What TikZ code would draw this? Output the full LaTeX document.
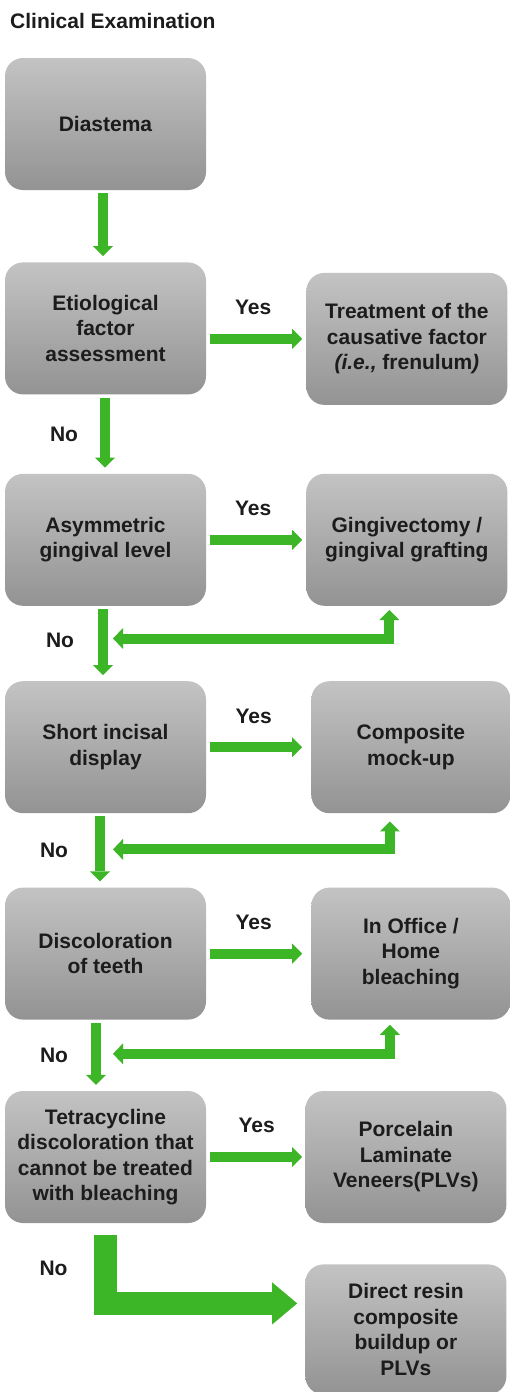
\documentclass[tikz,border=0pt]{standalone}
\usepackage{fontspec}
\setmainfont{Liberation Sans}
\usetikzlibrary{positioning,arrows.meta,calc}
\definecolor{cArrow}{HTML}{3CB526}
\definecolor{cTop}{HTML}{C2C3C2}
\definecolor{cBot}{HTML}{939393}
\definecolor{cText}{HTML}{1C1C1C}
\tikzset{
  box/.style={rounded corners=18pt, top color=cTop, bottom color=cBot, draw=none,
              align=center, text=cText, inner sep=0pt,
              font=\fontsize{21}{25.5}\selectfont\bfseries,
              minimum width=201pt, minimum height=132pt},
  ttl/.style={font=\fontsize{21}{25}\selectfont\bfseries, text=cText, inner sep=0pt},
  lbl/.style={font=\fontsize{21}{25}\selectfont\bfseries, text=cText, inner sep=0pt},
  yes/.style={lbl, above=19pt, xshift=-3pt},
  ar/.style={-{Triangle[length=10pt,width=20pt,line width=0pt]}, line width=10pt, cArrow,
             shorten <=3pt, shorten >=6pt},
  arr/.style={-{Triangle[length=10pt,width=20pt,line width=0pt]}, line width=10pt, cArrow,
              shorten <=4pt, shorten >=4pt},
  arb/.style={{Triangle[length=10pt,width=21pt,line width=0pt]}-{Triangle[length=10pt,width=20pt,line width=0pt]},
              line width=10pt, cArrow, shorten >=4pt},
  bigar/.style={-{Triangle[length=25pt,width=42pt,line width=0pt]}, line width=23pt, cArrow,
                shorten <=12pt, shorten >=8pt},
}

\begin{document}
\begin{tikzpicture}[x=1pt, y=1pt]
    \useasboundingbox (0,0) rectangle (510,-1392);
    \node[ttl, anchor=base west] (title) at (10,-28) {Clinical Examination};

    % left column
    \node[box] (diast) at (105.5,-124) {Diastema};
    \node[box, below=72pt of diast] (etio) {Etiological\\factor\\assessment};
    \node[box, below=79pt of etio] (asym) {Asymmetric\\gingival level};
    \node[box, below=75pt of asym] (short) {Short incisal\\display};
    \node[box, below=74pt of short] (disc) {Discoloration\\of teeth};
    \node[box, below=71pt of disc] (tetra)
      {Tetracycline\\discoloration that\\cannot be treated\\with bleaching};

    % right column
    \node[box, right=100pt of etio, yshift=-10.5pt] (treat)
      {Treatment of the\\causative factor\\\textit{(i.e.,} frenulum\textit{)}};
    \node[box, right=100pt of asym] (gingi) {Gingivectomy /\\gingival grafting};
    \node[box, right=105pt of short, minimum width=199pt] (comp) {Composite\\mock-up};
    \node[box, right=105pt of disc, minimum width=199pt] (office) {In Office /\\Home\\bleaching};
    \node[box, right=99pt of tetra] (porc) {Porcelain\\Laminate\\Veneers(PLVs)};
    \node[box, below=41pt of porc, minimum height=130pt] (direct)
      {Direct resin\\composite\\buildup or\\PLVs};

    % down arrows
    \draw[ar] ([xshift=-2.5pt]diast.south) -- ([xshift=-2.5pt]etio.north);
    \draw[ar] ([xshift=-0.5pt]etio.south) -- node[lbl, left=22pt] {No} ([xshift=-0.5pt]asym.north);
    \draw[ar] ([xshift=-2.5pt]asym.south) -- node[lbl, left=24pt, yshift=3pt] {No} ([xshift=-2.5pt]short.north);
    \draw[ar] ([xshift=-5.5pt]short.south) -- node[lbl, left=27pt] {No} ([xshift=-5.5pt]disc.north);
    \draw[ar] ([xshift=-9.5pt]disc.south) -- node[lbl, left=23pt] {No} ([xshift=-9.5pt]tetra.north);
    \draw[bigar] ([xshift=-0.5pt]tetra.south) |- node[lbl, pos=0.28, left=26pt] {No}
      ([yshift=26pt]direct.west);

    % yes arrows
    \draw[arr] (etio.east |- treat.west) -- node[yes] {Yes} (treat.west);
    \draw[arr] (asym.east) -- node[yes] {Yes} (gingi.west);
    \draw[arr, shorten >=9pt] (short.east) -- node[yes, xshift=-2pt] {Yes} (comp.west);
    \draw[arr, shorten >=9pt] (disc.east) -- node[yes, xshift=-2pt] {Yes} (office.west);
    \draw[arr, shorten >=3pt] (tetra.east) -- node[yes, xshift=4pt] {Yes} (porc.west);

    % back arrows
    \coordinate (b1) at ([xshift=7.5pt,yshift=-32.5pt]asym.south);
    \coordinate (b2) at ([xshift=7.5pt,yshift=-36pt]short.south);
    \coordinate (b3) at ([xshift=7.5pt,yshift=-34pt]disc.south);
    \draw[arb] (b1) -| ([xshift=-17.5pt]gingi.south);
    \draw[arb, shorten >=8pt] (b2) -| ([xshift=-21pt]comp.south);
    \draw[arb, shorten >=5pt] (b3) -| ([xshift=-21pt]office.south);
\end{tikzpicture}
\end{document}
